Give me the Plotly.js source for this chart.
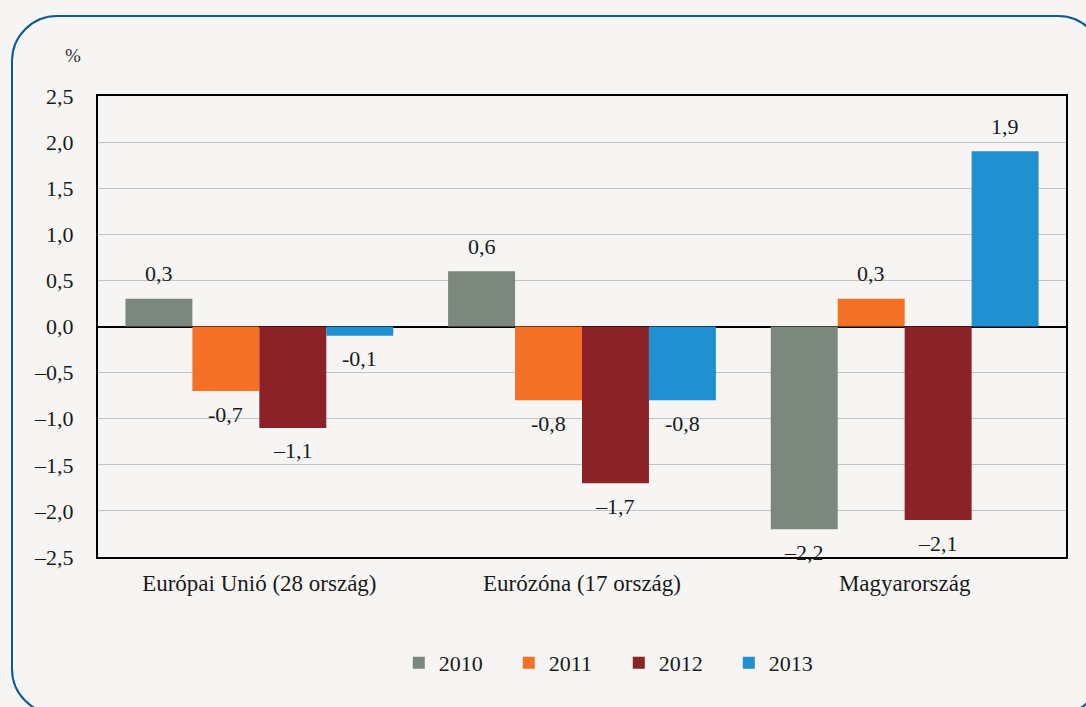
<!DOCTYPE html>
<html><head><meta charset="utf-8">
<script src="https://cdn.plot.ly/plotly-3.0.1.min.js"></script>
<style>
html,body{margin:0;padding:0;background:#f6f5f3;overflow:hidden;width:1086px;height:707px;font-family:"Liberation Serif";}
#frame{position:absolute;left:11px;top:15px;width:1093px;height:700px;border:2px solid #0c5a9a;border-radius:46px;box-sizing:border-box;}
#chart{position:absolute;left:0;top:0;width:1086px;height:707px;}
</style></head>
<body>
<div id="frame"></div>
<div id="chart"></div>
<script>
const categories = ["Európai Unió (28 ország)", "Eurózóna (17 ország)", "Magyarország"];
const years = ["2010", "2011", "2012", "2013"];
const values2010 = [0.3, 0.6, -2.2];
const values2011 = [-0.7, -0.8, 0.3];
const values2012 = [-1.1, -1.7, -2.1];
const values2013 = [-0.1, -0.8, 1.9];
const labels2010 = ["0,3", "0,6", "–2,2"];
const labels2011 = ["-0,7", "-0,8", "0,3"];
const labels2012 = ["–1,1", "–1,7", "–2,1"];
const labels2013 = ["-0,1", "-0,8", "1,9"];
const colors = ["#7b887d", "#f37024", "#8b2226", "#2190d0"];
const yTickVals = [2.5, 2, 1.5, 1, 0.5, 0, -0.5, -1, -1.5, -2, -2.5];
const yTickText = ["2,5", "2,0", "1,5", "1,0", "0,5", "0,0", "–0,5", "–1,0", "–1,5", "–2,0", "–2,5"];

const FONT = "Liberation Serif";
const TXT = "#1a1a1a";
const series = [values2010, values2011, values2012, values2013];
const labels = [labels2010, labels2011, labels2012, labels2013];

const traces = series.map((vals, i) => ({
  type: "bar", name: years[i], x: categories, y: vals,
  marker: {color: colors[i], line: {width: 0}},
  hoverinfo: "none"
}));

const nG = series.length;
const bargap = 0.17;
const annotations = [];
series.forEach((vals, i) => {
  vals.forEach((v, j) => {
    const w = (1 - bargap) / nG;
    const xpos = j - (1 - bargap) / 2 + w * (i + 0.5);
    annotations.push({
      x: xpos, y: v, xref: "x", yref: "y", text: labels[i][j],
      showarrow: false, yanchor: "middle", yshift: v >= 0 ? 25 : -23,
      font: {family: FONT, size: 22, color: TXT}
    });
  });
});
annotations.push({
  xref: "paper", yref: "paper", x: -0.016, y: 1.087, xanchor: "right", yanchor: "middle",
  text: "%", showarrow: false, font: {family: FONT, size: 19, color: "#333"}
});

const layout = {
  width: 1086, height: 707,
  paper_bgcolor: "rgba(0,0,0,0)", plot_bgcolor: "rgba(0,0,0,0)",
  margin: {l: 98, r: 20, t: 96, b: 150},
  barmode: "group", bargap: bargap, bargroupgap: 0,
  font: {family: FONT, size: 22, color: TXT},
  xaxis: {
    type: "category", showgrid: false, zeroline: false,
    showline: true, mirror: true, linecolor: "#000", linewidth: 2,
    ticks: "outside", ticklen: 4, tickcolor: "rgba(0,0,0,0)",
    tickfont: {family: FONT, size: 23, color: TXT}
  },
  yaxis: {
    range: [-2.5, 2.5], tickvals: yTickVals, ticktext: yTickText,
    showgrid: true, gridcolor: "#c3c3c3", gridwidth: 1,
    zeroline: true, zerolinecolor: "#000", zerolinewidth: 2,
    showline: true, mirror: true, linecolor: "#000", linewidth: 2,
    ticks: "outside", ticklen: 18, tickcolor: "rgba(0,0,0,0)",
    tickfont: {family: FONT, size: 22, color: TXT}
  },
  showlegend: true,
  legend: {
    orientation: "h", x: 0.538, xanchor: "center", y: -0.23, yanchor: "middle",
    bgcolor: "rgba(0,0,0,0)", font: {family: FONT, size: 22, color: TXT},
    entrywidth: 65, entrywidthmode: "pixels", itemclick: false
  },
  annotations: annotations
};

Plotly.newPlot("chart", traces, layout, {displayModeBar: false, staticPlot: true});
</script>
</body></html>
